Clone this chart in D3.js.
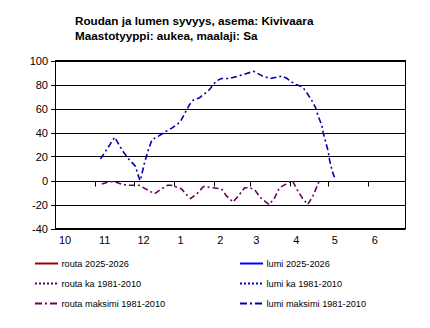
<!DOCTYPE html>
<html>
<head>
<meta charset="utf-8">
<script src="https://cdn.jsdelivr.net/npm/d3@7"></script>
<style>
  body { margin: 0; background: #fff; }
  svg { display: block; font-family: Arial, "Liberation Sans", sans-serif; }
</style>
</head>
<body>
<svg id="chart" width="430" height="328"></svg>
<script>
// Chart title
const titleLines = [
  "Roudan ja lumen syvyys, asema: Kivivaara",
  "Maastotyyppi: aukea, maalaji: Sa"
];

// Season axis: month starts and their labels
const seasonStart = "2025-10-01";
const seasonEnd = "2026-06-30";
const monthStarts = ["2025-10-01", "2025-11-01", "2025-12-01", "2026-01-01", "2026-02-01",
                     "2026-03-01", "2026-04-01", "2026-05-01", "2026-06-01"];
const monthLabels = ["10", "11", "12", "1", "2", "3", "4", "5", "6"];

// Depth axis (cm)
const yTicks = [100, 80, 60, 40, 20, 0, -20, -40];

// Snow depth maximum 1981-2010 (cm)
const lumiMaxDates = [
  "2025-11-05", "2025-11-16", "2025-11-22", "2025-11-26", "2025-12-02", "2025-12-05",
  "2025-12-06", "2025-12-09", "2025-12-12", "2025-12-15", "2025-12-20", "2025-12-26",
  "2025-12-31", "2026-01-06", "2026-01-09", "2026-01-13", "2026-01-16", "2026-01-21",
  "2026-01-28", "2026-02-03", "2026-02-07", "2026-02-13", "2026-02-20", "2026-02-26",
  "2026-03-04", "2026-03-11", "2026-03-17", "2026-03-26", "2026-03-30", "2026-04-01",
  "2026-04-06", "2026-04-11", "2026-04-15", "2026-04-18", "2026-04-21", "2026-04-23",
  "2026-04-26", "2026-04-27", "2026-04-29", "2026-05-01", "2026-05-02", "2026-05-04",
  "2026-05-06"
];
const lumiMaxValues = [
  18, 36, 25, 19, 12, 2,
  0, 14, 25, 34, 37, 41,
  44, 49, 55, 63, 67, 69,
  75, 83, 85, 85, 87, 89,
  91, 87, 85, 87, 85, 83,
  80, 78, 72, 67, 61, 54,
  46, 40, 32, 24, 17, 8,
  2
];

// Frost depth maximum 1981-2010 (cm, drawn as negative)
const routaMaxDates = [
  "2025-11-06", "2025-11-12", "2025-11-16", "2025-11-21", "2025-11-26", "2025-11-30",
  "2025-12-05", "2025-12-10", "2025-12-17", "2025-12-21", "2025-12-27", "2025-12-30",
  "2026-01-07", "2026-01-10", "2026-01-14", "2026-01-19", "2026-01-24", "2026-01-31",
  "2026-02-07", "2026-02-11", "2026-02-16", "2026-02-20", "2026-02-25", "2026-03-01",
  "2026-03-05", "2026-03-09", "2026-03-16", "2026-03-20", "2026-03-24", "2026-03-29",
  "2026-04-01", "2026-04-03", "2026-04-07", "2026-04-11", "2026-04-15", "2026-04-19",
  "2026-04-23", "2026-04-24"
];
const routaMaxValues = [
  -3, -1, -1, -3, -4, -4,
  -4, -7, -11, -8, -4, -4,
  -7, -11, -15, -11, -5, -6,
  -7, -13, -18, -13, -6, -6,
  -8, -14, -20, -15, -6, -3,
  -1, 0, -8, -15, -20, -13,
  -3, 0
];

// Legend entries (two columns, three rows)
const legendNames = [
  "routa 2025-2026", "lumi 2025-2026",
  "routa ka 1981-2010", "lumi ka 1981-2010",
  "routa maksimi 1981-2010", "lumi maksimi 1981-2010"
];

// Line styles
const styles = {
  "routa 2025-2026":         { color: "#990000", dash: null },
  "lumi 2025-2026":          { color: "#0000ff", dash: null },
  "routa ka 1981-2010":      { color: "#660066", dash: "2,2" },
  "lumi ka 1981-2010":       { color: "#0000cc", dash: "2,2" },
  "routa maksimi 1981-2010": { color: "#660066", dash: "7,3,2,3" },
  "lumi maksimi 1981-2010":  { color: "#0000b0", dash: "7,3,2,3" }
};

const parse = d3.utcParse("%Y-%m-%d");
const svg = d3.select("#chart");

const plot = { left: 55.5, right: 405.5, top: 60.5, bottom: 228.5 };

const x = d3.scaleUtc()
  .domain([parse(seasonStart), parse(seasonEnd)])
  .range([plot.left, plot.right]);
const y = d3.scaleLinear()
  .domain([-40, 100])
  .range([plot.bottom, plot.top]);

// Title
svg.append("g").selectAll("text")
  .data(titleLines)
  .join("text")
  .attr("x", 75)
  .attr("y", (d, i) => 24.5 + i * 15.5)
  .attr("font-size", "11.7px")
  .attr("font-weight", "bold")
  .attr("fill", "#000")
  .text(d => d);

// Horizontal gridlines with small ticks left of the axis
const grid = svg.append("g");
grid.selectAll("line.grid")
  .data(yTicks)
  .join("line")
  .attr("class", "grid")
  .attr("x1", plot.left - 4.5)
  .attr("x2", plot.right)
  .attr("y1", d => Math.round(y(d)) + 0.5)
  .attr("y2", d => Math.round(y(d)) + 0.5)
  .attr("stroke", "#000")
  .attr("stroke-width", 1);

grid.selectAll("text")
  .data(yTicks)
  .join("text")
  .attr("x", 48)
  .attr("y", d => y(d) + 4.5)
  .attr("text-anchor", "end")
  .attr("font-size", "11px")
  .attr("fill", "#000")
  .text(d => d);

// Plot frame
svg.append("rect")
  .attr("x", plot.left)
  .attr("y", plot.top)
  .attr("width", plot.right - plot.left)
  .attr("height", plot.bottom - plot.top)
  .attr("fill", "none")
  .attr("stroke", "#000")
  .attr("stroke-width", 1);

// Month ticks hanging from the zero line
const y0 = Math.round(y(0)) + 0.5;
svg.append("g").selectAll("line")
  .data(monthStarts.slice(1))
  .join("line")
  .attr("x1", d => Math.round(x(parse(d))) + 0.5)
  .attr("x2", d => Math.round(x(parse(d))) + 0.5)
  .attr("y1", y0)
  .attr("y2", y0 + 5)
  .attr("stroke", "#000")
  .attr("stroke-width", 1);

// Month labels below the plot
svg.append("g").selectAll("text")
  .data(monthStarts)
  .join("text")
  .attr("x", d => x(parse(d)) + 3.5)
  .attr("y", 244)
  .attr("font-size", "11px")
  .attr("fill", "#000")
  .text((d, i) => monthLabels[i]);

// Series
const line = d3.line()
  .x(d => x(d.date))
  .y(d => y(d.value));

function series(dates, values) {
  return dates.map((d, i) => ({ date: parse(d), value: values[i] }));
}

const drawn = [
  { name: "routa maksimi 1981-2010", data: series(routaMaxDates, routaMaxValues) },
  { name: "lumi maksimi 1981-2010", data: series(lumiMaxDates, lumiMaxValues) }
];

svg.append("g").selectAll("path")
  .data(drawn)
  .join("path")
  .attr("d", d => line(d.data))
  .attr("fill", "none")
  .attr("stroke", d => styles[d.name].color)
  .attr("stroke-width", 1.6)
  .attr("stroke-dasharray", "6,3,2,3");

// Legend
const legend = svg.append("g").selectAll("g")
  .data(legendNames)
  .join("g")
  .attr("transform", (d, i) => `translate(${i % 2 === 0 ? 35 : 240},${263.5 + Math.floor(i / 2) * 20})`);

legend.append("line")
  .attr("x1", 0)
  .attr("x2", 23)
  .attr("y1", 0)
  .attr("y2", 0)
  .attr("stroke", d => styles[d].color)
  .attr("stroke-width", 2)
  .attr("stroke-dasharray", d => styles[d].dash);

legend.append("text")
  .attr("x", 26.5)
  .attr("y", 3.3)
  .attr("font-size", "9.2px")
  .attr("fill", "#000")
  .text(d => d);
</script>
</body>
</html>
